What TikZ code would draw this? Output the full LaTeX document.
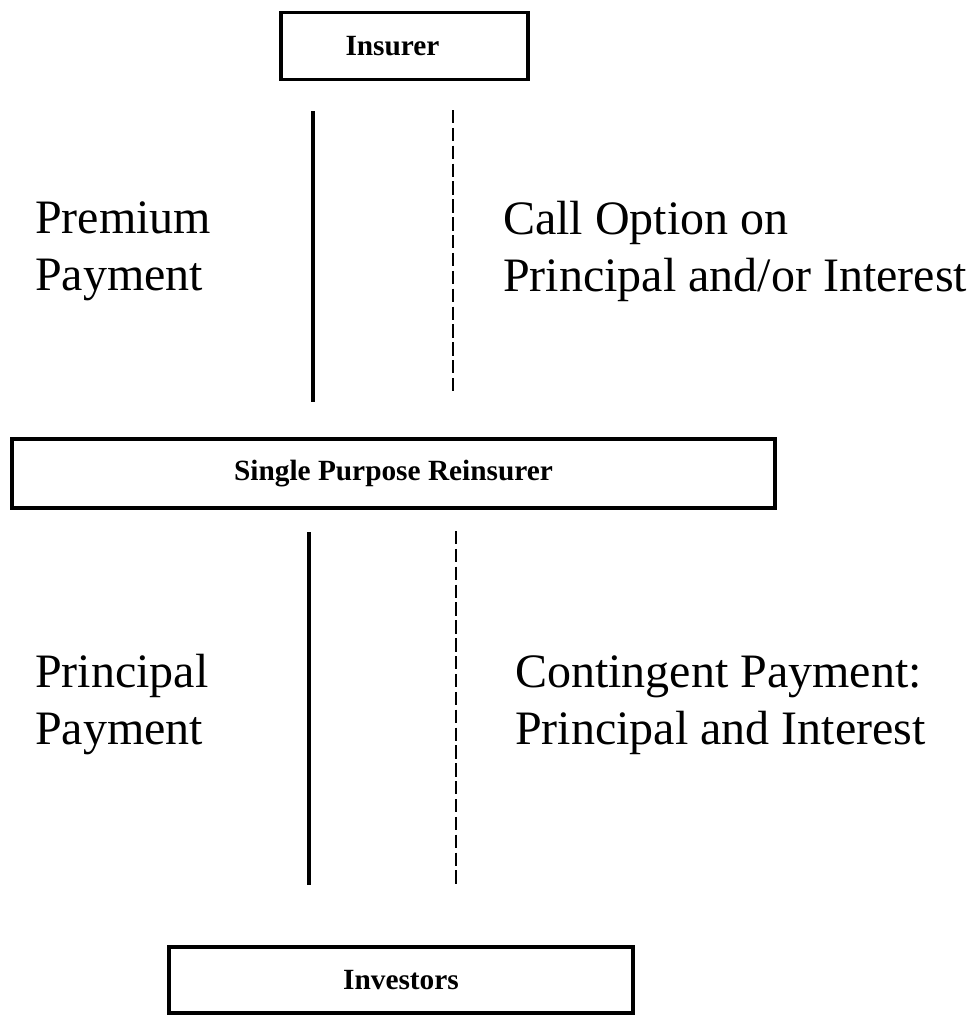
\documentclass[tikz,border=0pt]{standalone}
\usepackage{fontspec}
\setmainfont{Liberation Serif}
\begin{document}
\begin{tikzpicture}[x=0.75pt,y=-0.75pt,
  entity/.style={draw=black,line width=2.3pt,rectangle,inner sep=0pt,
    font=\fontsize{22}{26}\selectfont\bfseries},
  lbl/.style={inner sep=0pt,anchor=base west,align=left,
    font=\fontsize{36}{42.5}\selectfont},
  solidflow/.style={line width=2.7pt},
  dashflow/.style={line width=2.2pt,dash pattern=on 10pt off 3.4pt}]
\useasboundingbox (0,0) rectangle (975,1015);
\node[entity,minimum width=247*0.75pt,minimum height=67*0.75pt] (ins) at (404.5,46) {Insurer\hspace*{18pt}};
\node[entity,minimum width=763*0.75pt,minimum height=69*0.75pt] (spr) at (393.5,473.5) {Single Purpose Reinsurer};
\node[entity,minimum width=464*0.75pt,minimum height=66*0.75pt] (inv) at (401,980) {Investors};
\coordinate (s1a) at (313,111);
\coordinate (s1b) at (313,402);
\coordinate (d1a) at (453,110);
\coordinate (d1b) at (453,394);
\coordinate (s2a) at (309,532);
\coordinate (s2b) at (309,885);
\coordinate (d2a) at (456,531);
\coordinate (d2b) at (456,884);
\draw[solidflow] (s1a) -- (s1b);
\draw[dashflow] (d1a) -- (d1b);
\draw[solidflow] (s2a) -- (s2b);
\draw[dashflow] (d2a) -- (d2b);
\node[lbl] (pp) at (35,290) {Premium\\Payment};
\node[lbl] (co) at (503,291) {Call Option on\\Principal and/or Interest};
\node[lbl] (prp) at (35,744) {Principal\\Payment};
\node[lbl] (cp) at (515,744) {Contingent Payment:\\Principal and Interest};
\end{tikzpicture}
\end{document}
